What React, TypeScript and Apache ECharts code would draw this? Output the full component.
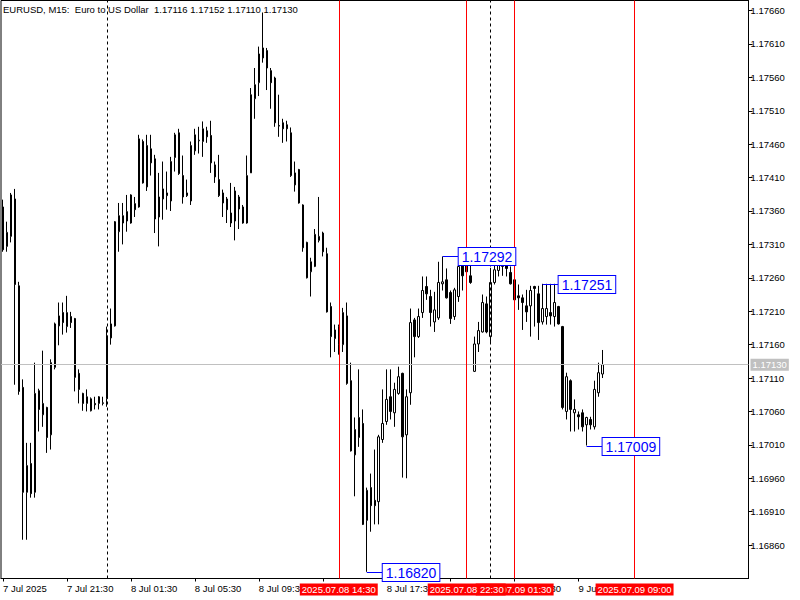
import React, { useEffect, useRef } from "react";
import * as echarts from "echarts";

const symbolTitle = "EURUSD, M15:  Euro to US Dollar";
const firstBarTime = [2025, 7, 7, 17, 30];
const barMinutes = 15;
const slotCount = 187;
const labelEvery = 16;
const monthNames = ["Jan", "Feb", "Mar", "Apr", "May", "Jun", "Jul", "Aug", "Sep", "Oct", "Nov", "Dec"];

const opens = [
  1.17366, 1.17307, 1.17322, 1.17378, 1.17248, 1.17096, 1.16939, 1.16982, 1.16939, 1.17091,
  1.17055, 1.17066, 1.17025, 1.17126, 1.17188, 1.17208, 1.17187, 1.17202, 1.17199, 1.17117,
  1.17087, 1.17072, 1.17061, 1.17072, 1.17072, 1.17072, 1.17079, 1.17170, 1.17188, 1.17329,
  1.17342, 1.17359, 1.17342, 1.17371, 1.17366, 1.17464, 1.17396, 1.17453, 1.17438, 1.17351,
  1.17378, 1.17387, 1.17375, 1.17440, 1.17477, 1.17413, 1.17387, 1.17375, 1.17450, 1.17465,
  1.17464, 1.17480, 1.17473, 1.17429, 1.17407, 1.17387, 1.17378, 1.17357, 1.17345, 1.17381,
  1.17366, 1.17342, 1.17417, 1.17528, 1.17552, 1.17589, 1.17600, 1.17570, 1.17559, 1.17488,
  1.17492, 1.17489, 1.17477, 1.17399, 1.17422, 1.17369, 1.17313, 1.17269, 1.17277, 1.17316,
  1.17327, 1.17296, 1.17217, 1.17169, 1.17187, 1.17160, 1.17203, 1.17106, 1.16995, 1.17021,
  1.17042, 1.16897, 1.16946, 1.16927, 1.16925, 1.17018, 1.17045, 1.17082, 1.17058, 1.17087,
  1.17117, 1.17025, 1.17088, 1.17197, 1.17172, 1.17208, 1.17247, 1.17232, 1.17194, 1.17200,
  1.17251, 1.17257, 1.17238, 1.17202, 1.17232, 1.17283, 1.17280, 1.17263, 1.17120, 1.17161,
  1.17179, 1.17221, 1.17172, 1.17253, 1.17271, 1.17277, 1.17283, 1.17268, 1.17257, 1.17233,
  1.17230, 1.17218, 1.17218, 1.17247, 1.17236, 1.17194, 1.17202, 1.17208, 1.17202, 1.17217,
  1.17187, 1.17060, 1.17106, 1.17058, 1.17055, 1.17058, 1.17040, 1.17048, 1.17037, 1.17088,
  1.17116,
];
const closes = [
  1.17302, 1.17328, 1.17384, 1.17250, 1.17090, 1.16939, 1.16979, 1.16937, 1.17087, 1.17063,
  1.17072, 1.17021, 1.17133, 1.17191, 1.17203, 1.17193, 1.17208, 1.17193, 1.17111, 1.17093,
  1.17072, 1.17082, 1.17079, 1.17070, 1.17082, 1.17073, 1.17173, 1.17191, 1.17344, 1.17353,
  1.17353, 1.17345, 1.17384, 1.17362, 1.17468, 1.17402, 1.17458, 1.17432, 1.17348, 1.17381,
  1.17393, 1.17383, 1.17434, 1.17474, 1.17416, 1.17381, 1.17383, 1.17458, 1.17474, 1.17466,
  1.17483, 1.17471, 1.17432, 1.17411, 1.17383, 1.17372, 1.17362, 1.17342, 1.17390, 1.17363,
  1.17342, 1.17413, 1.17534, 1.17549, 1.17595, 1.17604, 1.17574, 1.17552, 1.17492, 1.17487,
  1.17483, 1.17483, 1.17413, 1.17417, 1.17372, 1.17305, 1.17260, 1.17284, 1.17325, 1.17322,
  1.17299, 1.17209, 1.17172, 1.17182, 1.17160, 1.17208, 1.17102, 1.17001, 1.17033, 1.17051,
  1.16891, 1.16942, 1.16919, 1.16919, 1.17022, 1.17042, 1.17078, 1.17060, 1.17093, 1.17112,
  1.17022, 1.17082, 1.17193, 1.17172, 1.17202, 1.17241, 1.17236, 1.17208, 1.17212, 1.17253,
  1.17254, 1.17230, 1.17199, 1.17242, 1.17277, 1.17263, 1.17269, 1.17253, 1.17161, 1.17181,
  1.17223, 1.17179, 1.17253, 1.17272, 1.17283, 1.17284, 1.17274, 1.17251, 1.17227, 1.17230,
  1.17223, 1.17209, 1.17241, 1.17244, 1.17193, 1.17214, 1.17214, 1.17203, 1.17223, 1.17191,
  1.17066, 1.17112, 1.17063, 1.17063, 1.17052, 1.17037, 1.17051, 1.17040, 1.17093, 1.17118,
  1.17130,
];
const lows = [
  1.17299, 1.17299, 1.17313, 1.17100, 1.17085, 1.16868, 1.16868, 1.16931, 1.16931, 1.17030,
  1.17037, 1.16998, 1.17003, 1.17123, 1.17159, 1.17175, 1.17178, 1.17185, 1.17090, 1.17072,
  1.17061, 1.17060, 1.17060, 1.17063, 1.17063, 1.17069, 1.17067, 1.17160, 1.17187, 1.17299,
  1.17310, 1.17329, 1.17341, 1.17351, 1.17365, 1.17401, 1.17390, 1.17413, 1.17327, 1.17307,
  1.17347, 1.17362, 1.17360, 1.17419, 1.17414, 1.17371, 1.17381, 1.17369, 1.17444, 1.17446,
  1.17441, 1.17462, 1.17417, 1.17402, 1.17381, 1.17351, 1.17342, 1.17336, 1.17316, 1.17333,
  1.17341, 1.17341, 1.17417, 1.17498, 1.17532, 1.17582, 1.17541, 1.17513, 1.17486, 1.17471,
  1.17462, 1.17464, 1.17411, 1.17389, 1.17371, 1.17299, 1.17259, 1.17232, 1.17276, 1.17313,
  1.17292, 1.17208, 1.17141, 1.17149, 1.17145, 1.17149, 1.17100, 1.17000, 1.16933, 1.17007,
  1.16890, 1.16820, 1.16880, 1.16891, 1.16891, 1.17013, 1.17040, 1.17048, 1.17037, 1.17085,
  1.16961, 1.16960, 1.17070, 1.17141, 1.17170, 1.17200, 1.17227, 1.17187, 1.17179, 1.17197,
  1.17241, 1.17229, 1.17191, 1.17197, 1.17224, 1.17241, 1.17263, 1.17251, 1.17119, 1.17149,
  1.17178, 1.17177, 1.17164, 1.17250, 1.17262, 1.17263, 1.17262, 1.17250, 1.17226, 1.17212,
  1.17182, 1.17194, 1.17172, 1.17187, 1.17167, 1.17190, 1.17190, 1.17190, 1.17187, 1.17190,
  1.17063, 1.17048, 1.17030, 1.17030, 1.17033, 1.17030, 1.17009, 1.17033, 1.17033, 1.17082,
  1.17110,
];
const highs = [
  1.17377, 1.17344, 1.17387, 1.17393, 1.17254, 1.17108, 1.17013, 1.17013, 1.17133, 1.17094,
  1.17151, 1.17067, 1.17138, 1.17193, 1.17223, 1.17223, 1.17233, 1.17209, 1.17200, 1.17123,
  1.17088, 1.17093, 1.17081, 1.17082, 1.17083, 1.17082, 1.17187, 1.17214, 1.17345, 1.17372,
  1.17372, 1.17384, 1.17385, 1.17381, 1.17474, 1.17467, 1.17474, 1.17474, 1.17444, 1.17417,
  1.17434, 1.17419, 1.17441, 1.17477, 1.17483, 1.17443, 1.17407, 1.17464, 1.17483, 1.17486,
  1.17494, 1.17486, 1.17495, 1.17434, 1.17444, 1.17392, 1.17381, 1.17402, 1.17396, 1.17384,
  1.17369, 1.17443, 1.17544, 1.17574, 1.17606, 1.17657, 1.17604, 1.17574, 1.17561, 1.17534,
  1.17498, 1.17495, 1.17485, 1.17434, 1.17423, 1.17370, 1.17314, 1.17290, 1.17333, 1.17381,
  1.17329, 1.17305, 1.17223, 1.17190, 1.17190, 1.17215, 1.17223, 1.17133, 1.17051, 1.17123,
  1.17063, 1.16946, 1.16967, 1.17003, 1.17025, 1.17093, 1.17123, 1.17123, 1.17103, 1.17127,
  1.17118, 1.17093, 1.17214, 1.17200, 1.17214, 1.17262, 1.17262, 1.17242, 1.17239, 1.17284,
  1.17292, 1.17274, 1.17241, 1.17245, 1.17283, 1.17284, 1.17289, 1.17280, 1.17172, 1.17194,
  1.17235, 1.17232, 1.17275, 1.17283, 1.17290, 1.17290, 1.17289, 1.17277, 1.17260, 1.17250,
  1.17235, 1.17242, 1.17248, 1.17248, 1.17248, 1.17251, 1.17251, 1.17251, 1.17251, 1.17218,
  1.17188, 1.17118, 1.17108, 1.17078, 1.17060, 1.17063, 1.17052, 1.17052, 1.17106, 1.17133,
  1.17152,
];

const priceMin = 1.1681;
const priceMax = 1.17675;
const priceStep = 0.0005;
const bidPrice = 1.1713;
const daySeparators = ["2025.07.08 00:00", "2025.07.09 00:00"];
const eventTimes = ["2025.07.09 09:00", "2025.07.09 01:30", "2025.07.08 22:30", "2025.07.08 14:30"];
const swingBars = [110, 91, 135, 146];
const swingPrices = [1.17292, 1.1682, 1.17251, 1.17009];
const swingLabelShift = 4;

const axisFont = "'Liberation Sans', Arial, sans-serif";
const axisSize = 9.5;
const labelFont = "'Liberation Sans', Arial, sans-serif";

const pad = (n: number) => String(n).padStart(2, "0");
const t0 = Date.UTC(firstBarTime[0], firstBarTime[1] - 1, firstBarTime[2], firstBarTime[3], firstBarTime[4]);
const times: string[] = Array.from({ length: slotCount }, (_, i) => {
  const d = new Date(t0 + i * barMinutes * 60000);
  return `${d.getUTCFullYear()}.${pad(d.getUTCMonth() + 1)}.${pad(d.getUTCDate())} ${pad(d.getUTCHours())}:${pad(d.getUTCMinutes())}`;
});

const showTimeLabel = (i: number) => i % labelEvery === 0 && i < opens.length;

const formatTime = (v: string, i: number) => {
  const day = parseInt(v.slice(8, 10), 10);
  const mon = monthNames[parseInt(v.slice(5, 7), 10) - 1];
  if (i === 0) return `${day} ${mon} ${v.slice(0, 4)}`;
  return `${day} ${mon} ${v.slice(11)}`;
};

export default function App() {
  const ref = useRef<HTMLDivElement>(null);
  useEffect(() => {
    if (!ref.current) return;
    const chart = echarts.init(ref.current, undefined, { renderer: "svg" });
    const last = opens.length - 1;
    const titleText = `${symbolTitle}  ${opens[last].toFixed(5)} ${highs[last].toFixed(5)} ${lows[last].toFixed(5)} ${closes[last].toFixed(5)}`;
    const candles = opens.map((o, i) => [o, closes[i], lows[i], highs[i]]);

    chart.setOption({
      animation: false,
      backgroundColor: "#ffffff",
      title: {
        text: titleText,
        left: 3,
        top: 4,
        padding: 0,
        textStyle: { fontSize: axisSize, fontWeight: "normal", color: "#000", fontFamily: axisFont },
      },
      grid: {
        left: 0.5,
        right: 51.5,
        top: 0.5,
        bottom: 21.5,
        show: true,
        borderColor: "#000",
        borderWidth: 1,
        backgroundColor: "transparent",
      },
      xAxis: {
        type: "category",
        data: times,
        boundaryGap: true,
        axisLine: { show: true, lineStyle: { color: "#000", width: 1 } },
        axisTick: {
          show: true,
          alignWithLabel: true,
          interval: (i: number) => showTimeLabel(i),
          length: 3,
          lineStyle: { color: "#000" },
        },
        axisLabel: {
          interval: (i: number) => showTimeLabel(i),
          formatter: formatTime,
          align: "left",
          margin: 5,
          color: "#000",
          fontSize: axisSize,
          fontFamily: axisFont,
        },
        splitLine: { show: false },
      },
      yAxis: {
        type: "value",
        position: "right",
        min: priceMin,
        max: priceMax,
        interval: priceStep,
        axisLine: { show: true, lineStyle: { color: "#000", width: 1 } },
        axisTick: { show: true, length: 4, lineStyle: { color: "#000" } },
        axisLabel: {
          color: "#000",
          fontSize: axisSize,
          fontFamily: axisFont,
          margin: 2,
          showMinLabel: false,
          showMaxLabel: false,
          formatter: (v: number) => v.toFixed(5),
        },
        splitLine: { show: false },
      },
      series: [
        {
          type: "candlestick",
          data: candles,
          barWidth: 2,
          silent: true,
          emphasis: { disabled: true },
          itemStyle: {
            color: "#ffffff",
            color0: "#000000",
            borderColor: "#000000",
            borderColor0: "#000000",
            borderWidth: 1,
          },
          markLine: {
            silent: true,
            symbol: ["none", "none"],
            animation: false,
            precision: 5,
            emphasis: { disabled: true },
            data: [
              ...daySeparators.map((t) => ({
                xAxis: t,
                lineStyle: { color: "#000", type: [3, 3], width: 1 },
                label: { show: false },
              })),
              {
                yAxis: bidPrice,
                lineStyle: { color: "#c0c0c0", type: "solid", width: 1 },
                label: {
                  show: true,
                  position: "end",
                  formatter: bidPrice.toFixed(5),
                  color: "#fff",
                  backgroundColor: "#c0c0c0",
                  padding: [1, 2, 1, 2],
                  distance: 2,
                  fontSize: axisSize,
                  fontFamily: axisFont,
                },
              },
              ...eventTimes.map((t) => ({
                xAxis: t,
                lineStyle: { color: "#ff0000", type: "solid", width: 1 },
                label: {
                  show: true,
                  position: "start",
                  formatter: t,
                  color: "#fff",
                  backgroundColor: "#ff0000",
                  padding: [1, 2, 1, 2],
                  distance: 5,
                  fontSize: axisSize,
                  fontFamily: axisFont,
                },
              })),
            ],
          },
        },
        {
          type: "custom",
          clip: false,
          silent: true,
          z: 5,
          data: swingBars.map((b, k) => [b, swingPrices[k]]),
          renderItem: (params: any, api: any) => {
            const idx = api.value(0);
            const p = api.value(1);
            const a = api.coord([idx, p]);
            const b = api.coord([idx + swingLabelShift, p]);
            const y = Math.round(a[1]) + 0.5;
            return {
              type: "group",
              children: [
                {
                  type: "line",
                  shape: { x1: a[0], y1: y, x2: b[0], y2: y },
                  style: { stroke: "#0000ff", lineWidth: 1 },
                },
                {
                  type: "text",
                  x: b[0],
                  y: y,
                  style: {
                    text: p.toFixed(5),
                    fill: "#0000ff",
                    font: `14px ${labelFont}`,
                    align: "left",
                    verticalAlign: "middle",
                    backgroundColor: "#ffffff",
                    borderColor: "#0000ff",
                    borderWidth: 1,
                    padding: [2, 3, 1, 3],
                  },
                },
              ],
            };
          },
        },
      ],
    });
    return () => chart.dispose();
  }, []);

  return (
    <div
      ref={ref}
      style={{ position: "fixed", left: 0, top: 0, width: 800, height: 600, background: "#fff" }}
    />
  );
}
